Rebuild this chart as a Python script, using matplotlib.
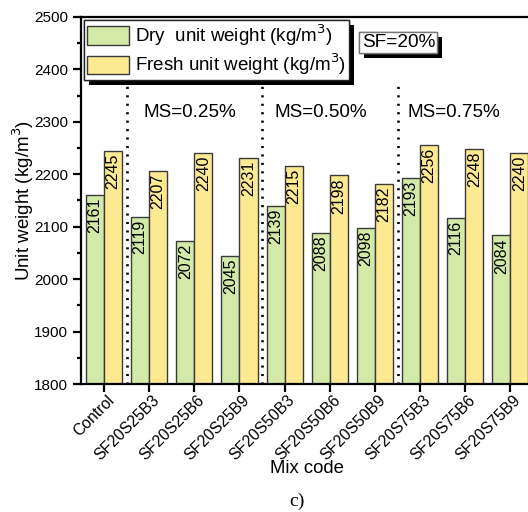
import matplotlib.pyplot as plt
import matplotlib.patheffects as pe
import matplotlib.transforms as mtransforms
import numpy as np

plt.rcParams.update({
    "font.family": ["Liberation Sans", "DejaVu Sans"],
    "font.size": 11,
    "axes.linewidth": 1.6,
    "xtick.direction": "out",
    "ytick.direction": "out",
})

mixes = ["Control", "SF20S25B3", "SF20S25B6", "SF20S25B9", "SF20S50B3",
         "SF20S50B6", "SF20S50B9", "SF20S75B3", "SF20S75B6", "SF20S75B9"]
dry = [2161, 2119, 2072, 2045, 2139, 2088, 2098, 2193, 2116, 2084]
fresh = [2245, 2207, 2240, 2231, 2215, 2198, 2182, 2256, 2248, 2240]
group_labels = ["MS=0.25%", "MS=0.50%", "MS=0.75%"]
group_x = [1.9, 4.8, 7.75]
dividers = [0.5, 3.5, 6.5]

fig = plt.figure(figsize=(5.28, 5.12), dpi=100)
ax = fig.add_axes([0.1534, 0.25, 0.856, 0.7168])

x = np.arange(len(mixes))
w = 0.4
ax.bar(x - w / 2, np.array(dry) - 1800, w, bottom=1800, color="#d3e9a7",
       edgecolor="#3a3a3a", lw=1.0, label="Dry  unit weight (kg/m$^3$)", zorder=2)
ax.bar(x + w / 2, np.array(fresh) - 1800, w, bottom=1800, color="#fee993",
       edgecolor="#3a3a3a", lw=1.0, label="Fresh unit weight (kg/m$^3$)", zorder=2)

# value labels inside the bar tops
for xs, vals in ((x - w / 2, dry), (x + w / 2, fresh)):
    for xi, v in zip(xs, vals):
        ax.annotate(str(v), (xi, v), xytext=(0, -2), textcoords="offset points",
                    rotation=90, ha="center", va="top", fontsize=11.5, zorder=3)

ax.vlines(dividers, 1800, 2380, colors="black", linestyles=(0, (0.8, 2.4)), lw=1.9, zorder=1)
for gx, gl in zip(group_x, group_labels):
    ax.text(gx, 2318, gl, ha="center", va="center", fontsize=13.6)

ax.set_xlim(-0.51, 9.5)
ax.set_ylim(1800, 2500)
ax.set_yticks(np.arange(1800, 2501, 100))
ax.set_yticks(np.arange(1850, 2500, 100), minor=True)
ax.tick_params(axis="y", which="major", length=6, width=1.6, labelsize=11)
ax.tick_params(axis="y", which="minor", length=3, width=1.6)
ax.set_xticks(x)
ax.set_xticklabels(mixes, rotation=45, ha="right", va="center",
                   rotation_mode="anchor", fontsize=11.3)
ax.tick_params(axis="x", length=6, width=1.6, pad=4)
shift = mtransforms.ScaledTranslation(0.08, 0, fig.dpi_scale_trans)
for lbl in ax.get_xticklabels():
    lbl.set_transform(lbl.get_transform() + shift)

ax.set_ylabel("Unit weight (kg/m$^3$)", fontsize=13.5)
ax.yaxis.set_label_coords(-0.1, 0.5)
ax.set_xlabel("Mix code", fontsize=13.3)
ax.xaxis.set_label_coords(0.5, -0.208)

leg = ax.legend(loc="upper left", bbox_to_anchor=(0.0, 1.0), borderaxespad=0.15,
                fontsize=13.5, handlelength=2.24, handleheight=1.15, handletextpad=0.35,
                labelspacing=0.2, borderpad=0.15, fancybox=False, framealpha=1)
leg.get_frame().set_edgecolor("#222222")
leg.get_frame().set_linewidth(1.0)
leg.get_frame().set_path_effects([
    pe.withSimplePatchShadow(offset=(3.6, -3.6), shadow_rgbFace="black", alpha=1),
    pe.Normal()])

sf = ax.text(0.621, 0.93, "SF=20%", transform=ax.transAxes, fontsize=13.7,
             ha="left", va="center",
             bbox=dict(boxstyle="square,pad=0.12", fc="white", ec="#777777", lw=1.0))
sf.get_bbox_patch().set_path_effects([
    pe.withSimplePatchShadow(offset=(3.6, -3.6), shadow_rgbFace="black", alpha=1),
    pe.Normal()])

fig.text(0.562, 0.021, "c)", family=["Liberation Serif", "DejaVu Serif"], fontsize=14,
         ha="center", va="center")

fig.savefig("out.png", dpi=100)
